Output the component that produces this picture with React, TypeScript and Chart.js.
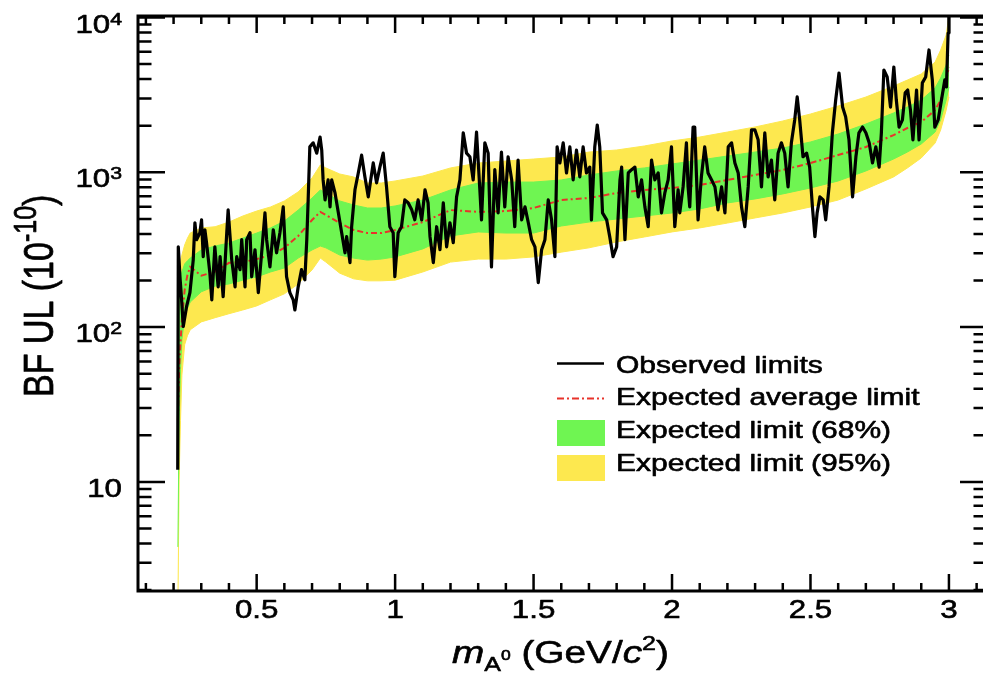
import React, { useEffect, useRef } from 'react';
import { Chart, registerables } from 'chart.js';

Chart.register(...registerables);

// ---------- axis ranges ----------
const X_MIN = 0.0715;
const X_MAX = 3.123;
const Y_MIN = 1.973;
const Y_MAX = 10226;

// ---------- tick labels ----------
const xMajorTicks = [0.5, 1, 1.5, 2, 2.5, 3];
const xTickLabels = ['0.5', '1', '1.5', '2', '2.5', '3'];
const yMajorTicks = [10, 100, 1000, 10000];
const yTickBase = ['10', '10', '10', '10'];
const yTickExp = ['', '2', '3', '4'];

// ---------- expected bands (x in GeV/c^2, values in 1e-10) ----------
const bandX = [0.2155, 0.22, 0.225, 0.23, 0.24, 0.25, 0.26, 0.3, 0.35, 0.4, 0.45, 0.5, 0.55, 0.6, 0.65, 0.7, 0.73, 0.75, 0.8, 0.85, 0.9, 0.95, 1.0, 1.1, 1.2, 1.3, 1.4, 1.5, 1.6, 1.7, 1.8, 1.9, 2.0, 2.1, 2.2, 2.3, 2.4, 2.5, 2.6, 2.7, 2.8, 2.85, 2.9, 2.95, 2.97, 2.99, 3.0];
const yellowHigh = [180, 234, 265, 292, 339, 375, 405, 437, 445, 477, 522, 562, 597, 653, 747, 919, 1115, 1067, 975, 933, 853, 853, 879, 946, 1067, 1148, 1183, 1218, 1256, 1352, 1393, 1479, 1594, 1690, 1820, 1963, 2145, 2380, 2682, 3065, 3607, 3945, 4315, 5155, 6160, 7710, 10240];
const greenHigh = [120, 188, 208, 227, 256, 268, 279, 315, 334, 349, 376, 405, 437, 484, 570, 682, 769, 735, 653, 615, 588, 588, 606, 662, 769, 853, 865, 865, 892, 961, 1020, 1067, 1132, 1200, 1274, 1352, 1435, 1570, 1767, 2050, 2416, 2642, 2930, 3506, 4064, 4930, 5725];
const greenLow = [3.8, 25, 53, 83, 115, 132, 145, 169, 184, 190, 201, 211, 227, 241, 279, 315, 334, 325, 292, 279, 271, 275, 284, 320, 388, 412, 405, 405, 450, 477, 499, 522, 546, 580, 634, 673, 725, 792, 879, 1020, 1218, 1352, 1524, 1820, 2180, 2930, 3560];
const yellowLow = [1.5, 10.3, 25, 49, 77, 88, 96, 108, 115, 122, 129, 137, 150, 164, 190, 234, 279, 263, 223, 205, 199, 199, 201, 227, 263, 275, 275, 284, 305, 325, 355, 382, 412, 437, 470, 507, 546, 597, 662, 780, 933, 1067, 1237, 1545, 1875, 2520, 3065];
const expectedMedian = [25, 53, 80, 111, 174, 217, 245, 215, 228, 260, 263, 275, 292, 325, 388, 492, 555, 530, 471, 424, 405, 405, 424, 477, 570, 555, 562, 588, 662, 682, 735, 769, 792, 828, 892, 961, 1035, 1148, 1293, 1456, 1740, 1932, 2113, 2520, 2930, 3950, 4790];

// ---------- observed limits ----------
const obsX = [0.215, 0.217, 0.223, 0.229, 0.235, 0.247, 0.259, 0.271, 0.277, 0.283, 0.295, 0.301, 0.307, 0.313, 0.319, 0.331, 0.338, 0.349, 0.361, 0.368, 0.379, 0.392, 0.397, 0.410, 0.422, 0.428, 0.440, 0.446, 0.458, 0.464, 0.476, 0.482, 0.494, 0.506, 0.518, 0.530, 0.536, 0.548, 0.560, 0.572, 0.584, 0.596, 0.608, 0.620, 0.632, 0.638, 0.650, 0.662, 0.674, 0.681, 0.686, 0.692, 0.704, 0.717, 0.729, 0.735, 0.740, 0.747, 0.758, 0.765, 0.771, 0.783, 0.795, 0.807, 0.819, 0.825, 0.837, 0.843, 0.855, 0.867, 0.879, 0.891, 0.903, 0.921, 0.933, 0.945, 0.957, 0.969, 0.981, 0.993, 0.999, 1.011, 1.023, 1.035, 1.047, 1.060, 1.071, 1.083, 1.096, 1.108, 1.119,
  1.126, 1.138, 1.150, 1.162, 1.174, 1.186, 1.198, 1.210, 1.222, 1.234, 1.246, 1.258, 1.270, 1.282, 1.294, 1.306, 1.312, 1.324, 1.336, 1.348, 1.360, 1.372, 1.384, 1.396, 1.408, 1.421, 1.432, 1.444, 1.457, 1.469, 1.481, 1.493, 1.505, 1.517, 1.529, 1.541, 1.553, 1.565, 1.577, 1.585, 1.595, 1.607, 1.619, 1.631, 1.643, 1.655, 1.667, 1.679, 1.691, 1.703, 1.709, 1.721, 1.730, 1.739, 1.749, 1.764, 1.775, 1.787, 1.800, 1.812, 1.818, 1.830, 1.842, 1.854, 1.866, 1.878, 1.890, 1.902, 1.914, 1.926, 1.938, 1.950, 1.962, 1.974, 1.986, 1.998, 2.010, 2.022,
  2.028, 2.040, 2.052, 2.058, 2.064, 2.076, 2.082, 2.094, 2.106, 2.118, 2.130, 2.143, 2.155, 2.166, 2.179, 2.191, 2.203, 2.215, 2.227, 2.239, 2.251, 2.263, 2.275, 2.287, 2.299, 2.311, 2.323, 2.335, 2.347, 2.359, 2.371, 2.383, 2.395, 2.407, 2.419, 2.431, 2.443, 2.452, 2.461, 2.473, 2.486, 2.497, 2.507, 2.516, 2.524, 2.534, 2.546, 2.555, 2.567, 2.579, 2.591, 2.603, 2.616, 2.627, 2.639, 2.652, 2.664, 2.675, 2.688, 2.700, 2.712, 2.724, 2.736, 2.748, 2.756, 2.765, 2.777, 2.789, 2.801, 2.810, 2.820, 2.832, 2.842, 2.851, 2.861, 2.870, 2.883, 2.892, 2.904, 2.916, 2.928, 2.940, 2.949, 2.961, 2.973, 2.985, 2.991, 2.997, 3.000];
const obsY = [12, 330, 212, 150, 101, 136, 167, 272, 472, 367, 407, 493, 285, 425, 351, 224, 150, 330, 182, 285, 157, 407, 572, 272, 182, 285, 235, 367, 182, 367, 407, 212, 316, 167, 302, 547, 367, 245, 425, 302, 407, 598, 212, 167, 150, 129, 182, 235, 202, 367, 663, 1460, 1550, 1330, 1690, 1390, 893, 663, 893, 598, 893, 736, 547, 407, 302, 384, 261, 445, 771, 990, 1290, 934, 694, 1150, 855, 1080, 1330, 805, 445, 407, 212, 407, 445, 663, 635, 572, 493, 663, 493, 771, 635,
  384, 261, 445, 316, 635, 330, 472, 351, 694, 893, 1800, 1330, 1260, 893, 1820, 771, 493, 1550, 1330, 245, 1040, 547, 1350, 598, 1260, 893, 445, 1200, 493, 598, 472, 367, 330, 194, 316, 367, 663, 493, 285, 1460, 1150, 1550, 990, 1460, 893, 1390, 934, 1460, 990, 1080, 493, 1460, 2020, 1460, 547, 493, 384, 285, 330, 893, 1080, 367, 990, 1040, 1080, 694, 893, 598, 445, 1200, 893, 990, 547, 736, 893, 1460, 445, 771,
  547, 805, 1550, 805, 598, 1960, 1960, 493, 934, 1460, 990, 893, 805, 572, 805, 547, 1460, 1550, 1150, 990, 598, 445, 805, 1880, 1880, 1620, 805, 1800, 934, 1200, 663, 1330, 1550, 1330, 805, 1550, 2180, 3070, 2180, 1260, 1330, 1080, 598, 384, 547, 694, 663, 493, 805, 1800, 2930, 4380, 2640, 2280, 1620, 694, 1260, 1800, 1960, 1800, 1550, 1150, 1460, 1080, 1800, 4580, 4130, 2640, 4790, 2930, 1960, 2180, 3260, 3400, 2530, 1620, 3400, 1620, 3780, 4130, 6170, 3950, 1960, 2180, 2930, 3950, 3560, 7940, 10070];

// ---------- legend labels ----------
const legendLabels = ['Observed limits', 'Expected average limit', 'Expected limit (68%)', 'Expected limit (95%)'];

const GREEN = '#6ff552';
const YELLOW = '#fde84f';
const RED = '#e8332b';
const FONT = '"Liberation Sans", Arial, Helvetica, sans-serif';
const SX = 1.25;

type Part = { t: string; size: number; dy?: number; italic?: boolean };

function partsWidth(ctx: CanvasRenderingContext2D, parts: Part[]) {
  let w = 0;
  for (const p of parts) {
    ctx.font = `${p.italic ? 'italic ' : ''}${p.size}px ${FONT}`;
    w += ctx.measureText(p.t).width;
  }
  return w;
}

function drawParts(ctx: CanvasRenderingContext2D, parts: Part[], x: number, y: number, align: 'left' | 'right' | 'center', rotate = false) {
  ctx.save();
  const w = partsWidth(ctx, parts);
  ctx.fillStyle = '#000';
  ctx.strokeStyle = '#000';
  ctx.lineWidth = 0.6;
  ctx.lineJoin = 'round';
  ctx.textAlign = 'left';
  ctx.textBaseline = 'alphabetic';
  if (rotate) {
    ctx.translate(x, y);
    ctx.rotate(-Math.PI / 2);
    ctx.scale(1, SX);
  } else {
    let start = x;
    if (align === 'right') start = x - w * SX;
    else if (align === 'center') start = x - (w * SX) / 2;
    ctx.translate(start, y);
    ctx.scale(SX, 1);
  }
  let cx = 0;
  for (const p of parts) {
    ctx.font = `${p.italic ? 'italic ' : ''}${p.size}px ${FONT}`;
    ctx.fillText(p.t, cx, p.dy || 0);
    ctx.strokeText(p.t, cx, p.dy || 0);
    cx += ctx.measureText(p.t).width;
  }
  ctx.restore();
}

const framePlugin = {
  id: 'rootFrame',
  afterDraw(chart: any) {
    const ctx: CanvasRenderingContext2D = chart.ctx;
    const { left, top, bottom, right } = chart.chartArea;
    const xs = chart.scales.x;
    const ys = chart.scales.y;
    const rightFrame = right + 4;
    ctx.save();
    ctx.strokeStyle = '#000';
    ctx.lineCap = 'butt';
    // frame
    ctx.lineWidth = 3;
    ctx.beginPath();
    ctx.moveTo(left, top);
    ctx.lineTo(rightFrame, top);
    ctx.moveTo(left, bottom);
    ctx.lineTo(rightFrame, bottom);
    ctx.moveTo(left, top - 1.5);
    ctx.lineTo(left, bottom + 1.5);
    ctx.stroke();
    // x ticks
    ctx.lineWidth = 2.5;
    ctx.beginPath();
    for (let k = 1; k <= 31; k++) {
      const v = k / 10;
      const px = xs.getPixelForValue(v);
      const major = k % 5 === 0;
      const len = major ? 17 : 8;
      ctx.moveTo(px, bottom);
      ctx.lineTo(px, bottom - len);
      ctx.moveTo(px, top);
      ctx.lineTo(px, top + len);
    }
    ctx.stroke();
    // y ticks
    ctx.beginPath();
    for (const d of [1, 10, 100, 1000]) {
      for (let m = 2; m <= 9; m++) {
        const v = m * d;
        if (v < Y_MIN || v > Y_MAX) continue;
        const py = ys.getPixelForValue(v);
        ctx.moveTo(left, py);
        ctx.lineTo(left + 13.5, py);
        ctx.moveTo(rightFrame, py);
        ctx.lineTo(rightFrame - 13.5, py);
      }
    }
    for (const v of yMajorTicks) {
      const py = ys.getPixelForValue(v);
      ctx.moveTo(left, py);
      ctx.lineTo(left + 27, py);
      ctx.moveTo(rightFrame, py);
      ctx.lineTo(rightFrame - 27, py);
    }
    ctx.stroke();
    ctx.restore();

    // x tick labels
    xMajorTicks.forEach((v, i) => {
      drawParts(ctx, [{ t: xTickLabels[i], size: 25 }], xs.getPixelForValue(v), bottom + 27, 'center');
    });
    // y tick labels
    yMajorTicks.forEach((v, i) => {
      const parts: Part[] = [{ t: yTickBase[i], size: 25 }];
      if (yTickExp[i]) parts.push({ t: yTickExp[i], size: 17, dy: -8 });
      drawParts(ctx, parts, left - 16, ys.getPixelForValue(v) + 15, 'right');
    });

    // axis titles
    drawParts(
      ctx,
      [
        { t: 'm', size: 31, italic: true },
        { t: 'A', size: 20, dy: 8 },
        { t: '0', size: 14, dy: -3 },
        { t: ' (GeV/', size: 31 },
        { t: 'c', size: 31, italic: true },
        { t: '2', size: 20, dy: -13 },
        { t: ')', size: 31 },
      ],
      452,
      663,
      'left'
    );
    drawParts(
      ctx,
      [
        { t: 'BF UL (10', size: 34 },
        { t: '-10', size: 25, dy: -14 },
        { t: ')', size: 34 },
      ],
      53,
      397,
      'left',
      true
    );

    // legend
    ctx.save();
    const lx0 = 557;
    const lx1 = 604;
    ctx.lineWidth = 2.5;
    ctx.strokeStyle = '#000';
    ctx.beginPath();
    ctx.moveTo(lx0, 363.5);
    ctx.lineTo(lx1, 363.5);
    ctx.stroke();
    ctx.strokeStyle = RED;
    ctx.lineWidth = 2;
    ctx.setLineDash([7, 3, 2, 3]);
    ctx.beginPath();
    ctx.moveTo(lx0, 398.5);
    ctx.lineTo(lx1, 398.5);
    ctx.stroke();
    ctx.setLineDash([]);
    ctx.fillStyle = GREEN;
    ctx.fillRect(lx0, 420, 48, 26);
    ctx.fillStyle = YELLOW;
    ctx.fillRect(lx0, 455, 48, 26);
    ctx.restore();
    const baselines = [372.7, 405, 438.3, 470.5];
    legendLabels.forEach((t, i) => drawParts(ctx, [{ t, size: 24 }], 616, baselines[i], 'left'));
  },
};

export default function App() {
  const ref = useRef<HTMLCanvasElement>(null);
  useEffect(() => {
    const canvas = ref.current;
    if (!canvas) return;
    const obs = obsX.slice(0, Math.min(obsX.length, obsY.length)).map((x, i) => ({ x, y: obsY[i] }));
    const band = (arr: number[]) => bandX.map((x, i) => ({ x, y: arr[i] }));
    const chart = new Chart(canvas, {
      type: 'line',
      data: {
        datasets: [
          { label: legendLabels[0], data: obs, borderColor: '#000', borderWidth: 3.2, pointRadius: 0, fill: false, tension: 0, borderJoinStyle: 'round' },
          { label: legendLabels[1], data: band(expectedMedian), borderColor: RED, borderWidth: 2, borderDash: [6, 3, 2, 3], pointRadius: 0, fill: false },
          { label: legendLabels[2], data: band(greenHigh), borderColor: GREEN, borderWidth: 1, backgroundColor: GREEN, pointRadius: 0, fill: 3 },
          { label: 'green low', data: band(greenLow), borderColor: GREEN, borderWidth: 1, pointRadius: 0, fill: false },
          { label: legendLabels[3], data: band(yellowHigh), borderColor: YELLOW, borderWidth: 1, backgroundColor: YELLOW, pointRadius: 0, fill: 5 },
          { label: 'yellow low', data: band(yellowLow), borderColor: YELLOW, borderWidth: 1, pointRadius: 0, fill: false },
        ],
      } as any,
      options: {
        responsive: false,
        animation: false,
        layout: { padding: { left: 138, top: 16, right: 0, bottom: 82 } },
        plugins: {
          legend: { display: false },
          tooltip: { enabled: false },
          title: { display: false },
        },
        scales: {
          x: { type: 'linear', min: X_MIN, max: X_MAX, display: false },
          y: { type: 'logarithmic', min: Y_MIN, max: Y_MAX, display: false },
        },
      } as any,
      plugins: [framePlugin],
    });
    return () => chart.destroy();
  }, []);
  return (
    <div style={{ position: 'fixed', left: 0, top: 0, width: 983, height: 673, background: '#fff' }}>
      <canvas ref={ref} width={983} height={673} style={{ display: 'block', width: 983, height: 673 }} />
    </div>
  );
}
